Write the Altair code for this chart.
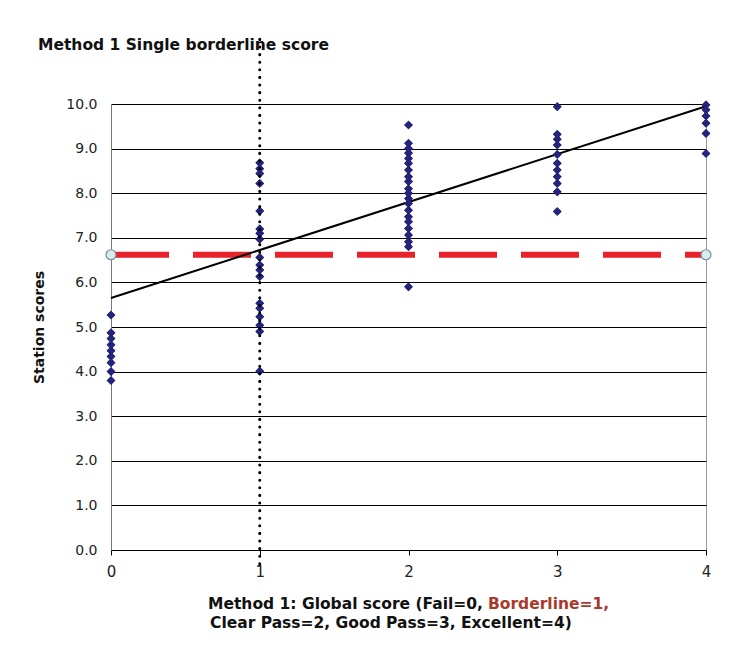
import altair as alt
import pandas as pd

# ---- data ----
scores_fail = [5.27, 4.87, 4.74, 4.6, 4.47, 4.34, 4.2, 4.0, 3.8]
scores_borderline = [8.68, 8.55, 8.44, 8.22, 7.6, 7.2, 7.1, 6.97, 6.56, 6.39, 6.28,
                     6.13, 5.53, 5.42, 5.23, 5.04, 4.9, 4.01]
scores_clear = [9.53, 9.12, 9.0, 8.9, 8.78, 8.67, 8.52, 8.37, 8.26, 8.1, 8.0, 7.88,
                7.77, 7.62, 7.47, 7.36, 7.21, 7.06, 6.91, 6.8, 5.9]
scores_good = [9.94, 9.32, 9.21, 9.08, 8.87, 8.67, 8.52, 8.37, 8.22, 8.03, 7.59]
scores_excellent = [9.98, 9.87, 9.73, 9.57, 9.34, 8.89]

line_x = [0, 4]
line_y = [5.65, 9.95]

cut_x = [0, 4]
cut_score = 6.62

borderline_grade = 1
dotted_y = [11.45, -0.35]

x_ticks = [0, 1, 2, 3, 4]
y_ticks = [0, 1, 2, 3, 4, 5, 6, 7, 8, 9, 10]

title_text = "Method 1 Single borderline score"
y_title = "Station scores"
x_title_1a = "Method 1: Global score (Fail=0,"
x_title_1b = "Borderline=1,"
x_title_2 = "Clear Pass=2, Good Pass=3, Excellent=4)"

# ---- tables ----
rows = []
for g, vals in enumerate([scores_fail, scores_borderline, scores_clear,
                          scores_good, scores_excellent]):
    for v in vals:
        rows.append({"grade": g, "score": v})
pts = pd.DataFrame(rows)
line_df = pd.DataFrame({"grade": line_x, "score": line_y})
cut_df = pd.DataFrame({"grade": cut_x, "score": [cut_score] * len(cut_x)})
dot_df = pd.DataFrame({"grade": [borderline_grade] * 2, "score": dotted_y})

FONT = "DejaVu Sans"

xscale = alt.Scale(domain=[0, 4], nice=False, zero=False)
yscale = alt.Scale(domain=[0, 10], nice=False)

xenc = alt.X("grade:Q", scale=xscale,
             axis=alt.Axis(values=x_ticks, format="d", title=None, grid=False,
                           domainColor="black", tickColor="black", tickSize=5,
                           labelFlush=False,
                           labelFont=FONT, labelFontSize=15, labelColor="#222",
                           labelPadding=9))
yenc = alt.Y("score:Q", scale=yscale,
             axis=alt.Axis(values=y_ticks, format=".1f", title=y_title,
                           grid=True, gridColor="black", gridWidth=1,
                           domainColor="#777", ticks=False,
                           labelFont=FONT, labelFontSize=14, labelColor="#222",
                           labelPadding=14,
                           titleFont=FONT, titleFontSize=14, titleFontWeight="bold",
                           titleColor="#111", titleX=-72, titleY=223,
                           titleBaseline="middle", titleAlign="center", titleAngle=270))

base_pts = alt.Chart(pts).mark_point(shape="diamond", filled=True, size=75,
                                     color="#24247a", opacity=1).encode(x=xenc, y=yenc)

cut_rule = alt.Chart(cut_df).mark_line(color="#e8222b", strokeWidth=6,
                                       strokeDash=[58, 24]).encode(
    x=alt.X("grade:Q", scale=xscale), y=alt.Y("score:Q", scale=yscale))
cut_ends = alt.Chart(cut_df).mark_point(shape="circle", filled=True, size=100,
                                        fill="#d6ecf2", stroke="#7d8e95",
                                        strokeWidth=1.2, opacity=1).encode(
    x=alt.X("grade:Q", scale=xscale), y=alt.Y("score:Q", scale=yscale))

reg_line = alt.Chart(line_df).mark_line(color="black", strokeWidth=2).encode(
    x=alt.X("grade:Q", scale=xscale), y=alt.Y("score:Q", scale=yscale))

dotted = alt.Chart(dot_df).mark_line(color="black", strokeWidth=3, strokeCap="round",
                                     strokeDash=[0.1, 7.5], clip=False).encode(
    x=alt.X("grade:Q", scale=xscale), y=alt.Y("score:Q", scale=yscale))

txt_df = pd.DataFrame({"t": [0]})
title_mark = alt.Chart(txt_df).mark_text(text=title_text, font=FONT, fontSize=15.5,
                                         fontWeight="bold", align="left",
                                         baseline="alphabetic", color="#111").encode(
    x=alt.value(-73), y=alt.value(-54))
xt1a = alt.Chart(txt_df).mark_text(text=x_title_1a, font=FONT, fontSize=15.5,
                                   fontWeight="bold", align="right",
                                   baseline="alphabetic", color="#111").encode(
    x=alt.value(372), y=alt.value(505))
xt1b = alt.Chart(txt_df).mark_text(text=x_title_1b, font=FONT, fontSize=15.5,
                                   fontWeight="bold", align="left",
                                   baseline="alphabetic", color="#a83a2c").encode(
    x=alt.value(377), y=alt.value(505))
xt2 = alt.Chart(txt_df).mark_text(text=x_title_2, font=FONT, fontSize=15.5,
                                  fontWeight="bold", align="left",
                                  baseline="alphabetic", color="#111").encode(
    x=alt.value(99), y=alt.value(524))

chart = alt.layer(
    base_pts, cut_rule, reg_line, cut_ends, base_pts, dotted,
    title_mark, xt1a, xt1b, xt2
).properties(
    width=595, height=446,
    autosize=alt.AutoSizeParams(type="none"),
    padding={"left": 103, "top": 96, "right": 19, "bottom": 93},
    background="white",
).configure_view(stroke="#999", strokeWidth=1)

chart.save("out.html", embed_options={"renderer": "svg", "actions": False})
